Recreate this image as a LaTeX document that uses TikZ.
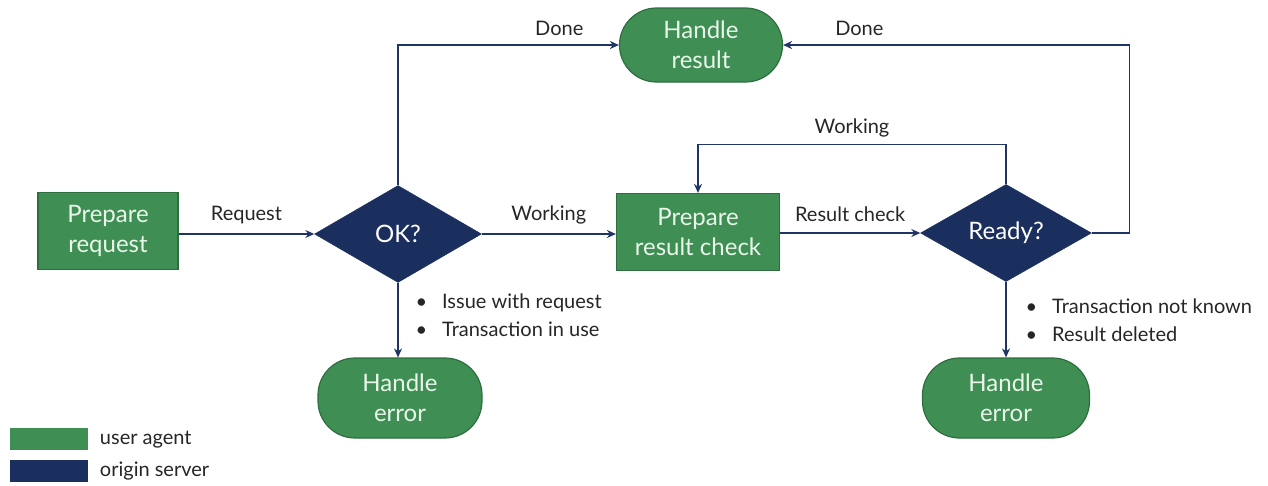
\documentclass[tikz,border=0pt]{standalone}
\usepackage{fontspec}
\setmainfont{Lato}
\usepackage{tikz}
\usetikzlibrary{shapes.geometric, arrows.meta, positioning}
\definecolor{uagreen}{HTML}{3F8F55}
\definecolor{uaedge}{HTML}{2E6E3E}
\definecolor{uatext}{HTML}{EAF6EA}
\definecolor{osnavy}{HTML}{1B2F5E}
\definecolor{flowline}{HTML}{1E3566}

\begin{document}
\begin{tikzpicture}[x=1pt,y=-1pt,
    uabox/.style={draw=uaedge,fill=uagreen,text=uatext,line width=1.2pt,align=center,
      minimum width=140pt,minimum height=77pt,inner sep=0pt,
      font=\fontsize{24}{30}\selectfont},
    uaround/.style={uabox,rounded corners=37pt},
    osdiamond/.style={diamond,draw=osnavy,fill=osnavy,text=white,inner sep=0pt,
      minimum width=167pt,minimum height=97pt,font=\fontsize{24}{30}\selectfont},
    flow/.style={-{Stealth[length=9pt,width=8pt]},flowline,line width=1.3pt},
    lbl/.style={text=black!85,font=\fontsize{20}{28}\selectfont},
    legbox/.style={draw=none,minimum width=78pt,minimum height=22pt,inner sep=0pt}]
  \useasboundingbox (0,0) rectangle (1268,485);

  % boxes and decisions
  \node[uabox] (prep) at (108,231) {Prepare\\request};
  \node[osdiamond] (ok) at (398,234) {OK?};
  \node[uabox,minimum width=163pt] (check) at (698,232) {Prepare\\result check};
  \node[osdiamond,minimum width=171pt] (ready) at (1006,233) {Ready?};
  \node[uaround,minimum width=163pt,minimum height=74pt] (result) at (701,45) {Handle\\result};
  \node[uaround,minimum width=164pt,minimum height=80pt] (err1) at (400,398) {Handle\\error};
  \node[uaround,minimum width=167pt,minimum height=80pt] (err2) at (1006,398) {Handle\\error};

  % connectors
  \draw[flow] (prep.east |- ok.west) -- node[lbl,above=6pt] {Request} (ok.west);
  \draw[flow] (ok.east) -- node[lbl,above=6pt] {Working} (check.west |- ok.east);
  \draw[flow] (check.east |- ready.west) -- node[lbl,above=7pt] {Result check} (ready.west);
  \draw[flow] (ok.north) |- node[lbl,pos=0.865,above=5pt] {Done} (result.west);
  \draw[flow] (ready.east) -- ++(38,0) |- node[lbl,pos=0.89,above=5pt] {Done} (result.east);
  \draw[flow] (ready.north) -- ++(0,-40) -| node[lbl,pos=0.25,above=3pt] {Working} (check.north);
  \draw[flow] (ok.south) -- (ok.south |- err1.north);
  \draw[flow] (ready.south) -- (ready.south |- err2.north);

  % failure reasons
  \node[lbl,anchor=north west,align=left] (why1) at (412,290)
    {\textbullet\hspace{15pt}Issue with request\\\textbullet\hspace{15pt}Transaction in use};
  \node[lbl,anchor=north west,align=left] (why2) at (1022,295)
    {\textbullet\hspace{15pt}Transaction not known\\\textbullet\hspace{15pt}Result deleted};

  % legend
  \node[legbox,fill=uagreen,anchor=north west] (lgua) at (10,428) {};
  \node[legbox,fill=osnavy,anchor=north west] (lgos) at (10,460) {};
  \node[lbl,anchor=west] at ([xshift=8pt]lgua.east) {user agent};
  \node[lbl,anchor=west] at ([xshift=8pt]lgos.east) {origin server};
\end{tikzpicture}
\end{document}
